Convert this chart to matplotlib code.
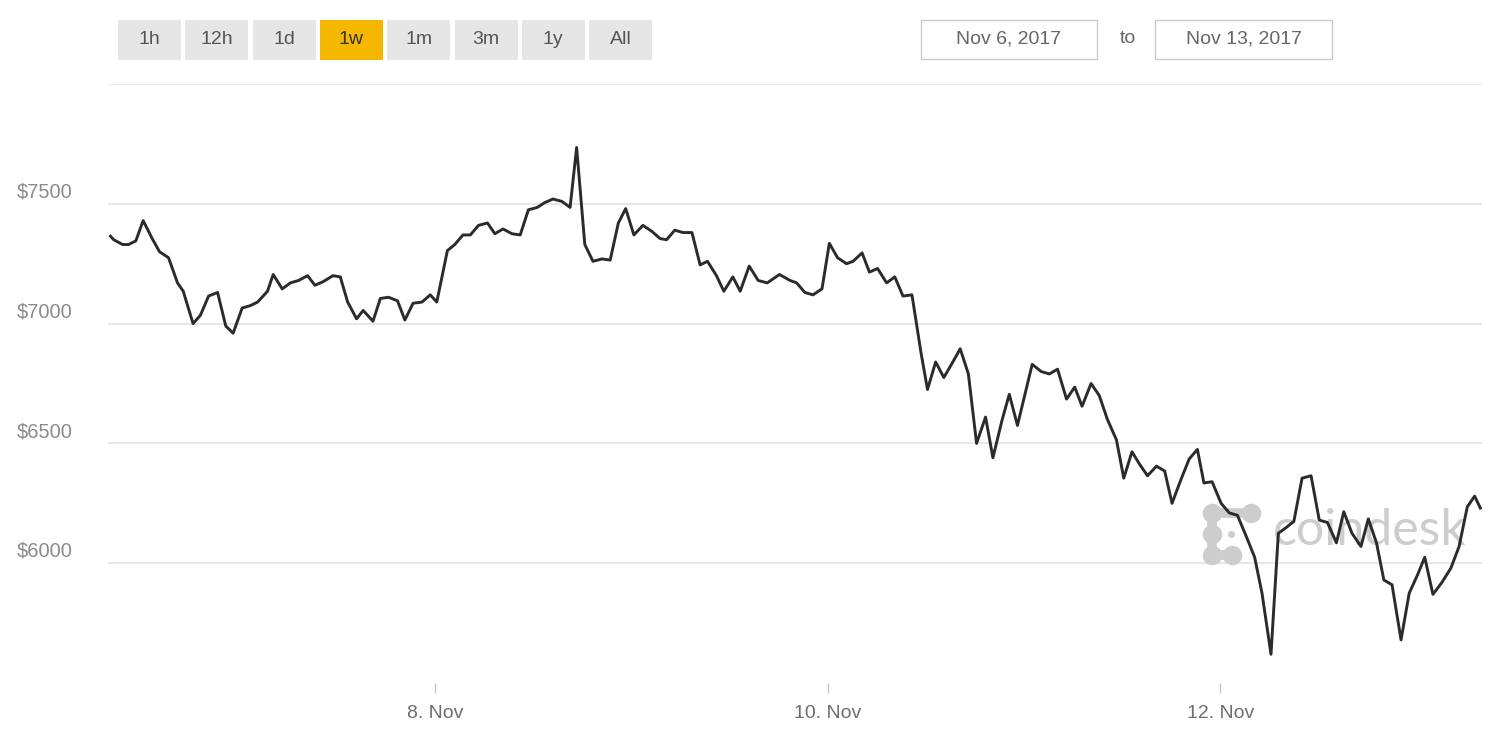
import pandas as pd
import matplotlib
matplotlib.use('Agg')
import matplotlib.pyplot as plt
from matplotlib.patches import Rectangle

plt.rcParams['font.family'] = ['Liberation Sans', 'DejaVu Sans']

# hours since 2017-11-06 00:00 and BTC price (USD)
hours = [8.3, 8.7, 9.8, 10.5, 11.4, 12.3, 13.4, 14.3, 15.4, 16.5,
         17.2, 18.4, 19.3, 20.3, 21.4, 22.4, 23.3, 24.4, 25.4, 26.3,
         27.5, 28.2, 29.3, 30.3, 31.3, 32.4, 33.3, 34.3, 35.5, 36.4,
         37.3, 38.4, 39.2, 40.4, 41.3, 42.3, 43.4, 44.3, 45.3, 46.4,
         47.4, 48.2, 49.5, 50.4, 51.4, 52.3, 53.3, 54.4, 55.3, 56.3,
         57.4, 58.4, 59.4, 60.5, 61.4, 62.4, 63.5, 64.5, 65.3, 66.3,
         67.3, 68.4, 69.4, 70.4, 71.3, 72.3, 73.4, 74.5, 75.5, 76.3,
         77.3, 78.3, 79.4, 80.4, 81.3, 82.4, 83.3, 84.4, 85.3, 86.4,
         87.5, 88.6, 90.1, 91.4, 92.2, 93.2, 94.2, 95.3, 96.2, 97.2,
         98.3, 99.1, 100.2, 101.1, 102.1, 103.2, 104.2, 105.2, 106.3, 107.4,
         108.2, 109.2, 110.2, 111.3, 112.2, 113.2, 114.2, 115.3, 116.2, 117.3,
         118.2, 119.2, 121.0, 122.1, 123.1, 124.1, 125.2, 126.2, 127.1, 128.2,
         129.2, 130.2, 131.3, 132.2, 133.2, 134.1, 135.1, 136.2, 137.2, 138.1,
         139.2, 140.2, 141.2, 142.0, 143.0, 144.1, 145.1, 146.1, 147.2, 148.2,
         149.1, 150.2, 151.1, 152.1, 153.0, 154.0, 155.1, 156.1, 157.1, 158.2,
         159.1, 160.1, 161.2, 162.1, 163.1, 164.0, 165.0, 166.1, 167.1, 168.1,
         169.0, 170.0, 171.1, 172.2, 173.2, 174.2, 175.1, 175.8]

prices = [7365, 7350, 7330, 7330, 7345, 7430, 7355, 7300, 7275, 7170,
          7135, 7000, 7035, 7115, 7130, 6990, 6960, 7065, 7075, 7090,
          7135, 7205, 7145, 7170, 7180, 7200, 7160, 7175, 7200, 7195,
          7090, 7020, 7055, 7010, 7105, 7110, 7095, 7015, 7085, 7090,
          7120, 7090, 7305, 7330, 7370, 7370, 7410, 7420, 7375, 7395,
          7375, 7370, 7475, 7485, 7505, 7520, 7510, 7485, 7735, 7330,
          7260, 7270, 7265, 7420, 7480, 7370, 7410, 7385, 7355, 7350,
          7390, 7380, 7380, 7245, 7260, 7200, 7135, 7195, 7135, 7240,
          7180, 7170, 7205, 7180, 7170, 7130, 7120, 7145, 7335, 7275,
          7250, 7260, 7295, 7215, 7230, 7170, 7195, 7115, 7120, 6880,
          6725, 6840, 6775, 6840, 6895, 6790, 6500, 6610, 6440, 6595,
          6705, 6575, 6830, 6800, 6790, 6810, 6685, 6735, 6655, 6750,
          6700, 6600, 6515, 6355, 6465, 6415, 6365, 6405, 6385, 6250,
          6350, 6435, 6475, 6335, 6340, 6250, 6210, 6200, 6110, 6025,
          5875, 5620, 6125, 6150, 6175, 6355, 6365, 6180, 6170, 6085,
          6215, 6125, 6070, 6185, 6085, 5930, 5910, 5680, 5875, 5950,
          6025, 5870, 5920, 5980, 6070, 6235, 6280, 6230]

y_ticks = [6000, 6500, 7000, 7500]
y_labels = ['$6000', '$6500', '$7000', '$7500']
x_ticks = ['2017-11-08', '2017-11-10', '2017-11-12']
x_labels = ['8. Nov', '10. Nov', '12. Nov']
buttons = ['1h', '12h', '1d', '1w', '1m', '3m', '1y', 'All']
selected = '1w'
date_from = 'Nov 6, 2017'
date_to = 'Nov 13, 2017'

times = pd.Timestamp('2017-11-06') + pd.to_timedelta(hours, unit='h')

fig = plt.figure(figsize=(15, 7.5), dpi=100)
ax = fig.add_axes([0.072, 0.0893, 0.916, 0.7987])

ax.plot(times, prices, color='#2b2b2b', lw=2.1, zorder=3)

ax.set_xlim(pd.Timestamp('2017-11-06 08:00'), pd.Timestamp('2017-11-13 08:00'))
ax.set_ylim(5500, 8000)

for v in [6000, 6500, 7000, 7500, 8000]:
    ax.axhline(v, color='#e3e3e3', lw=1.2, zorder=1)

for s in ax.spines.values():
    s.set_visible(False)

ax.set_yticks([])
for v, lab in zip(y_ticks, y_labels):
    ax.annotate(lab, xy=(0, v), xycoords=('axes fraction', 'data'),
                xytext=(-65.5, 8.5), textcoords='offset points',
                ha='left', va='center', fontsize=14.5, color='#8c8c8c')

ax.set_xticks(pd.to_datetime(x_ticks))
ax.set_xticklabels(x_labels)
ax.tick_params(axis='x', length=7, width=1, color='#c8c8c8',
               labelsize=14, labelcolor='#6e6e6e', pad=9)

# coindesk watermark
wm = '#cdcdcd'
ax.text(0.848, 0.253, 'coindesk', transform=ax.transAxes, fontsize=36,
        color=wm, ha='left', va='center', zorder=2, family='Lato')
ax.plot([0.832, 0.8035, 0.8035, 0.818], [0.2837, 0.2837, 0.2137, 0.2137],
        transform=ax.transAxes, color=wm, lw=7,
        solid_capstyle='round', solid_joinstyle='round', zorder=2)
ax.plot([0.832, 0.8035, 0.8035, 0.8035, 0.818],
        [0.2837, 0.2837, 0.2487, 0.2137, 0.2137], 'o',
        transform=ax.transAxes, color=wm, ms=13, zorder=2)
ax.plot([0.8175], [0.2487], 'o', transform=ax.transAxes, color=wm,
        ms=4, zorder=2)

# range selector buttons
for i, b in enumerate(buttons):
    x0 = (118 + i * 67.3) / 1500
    face = '#f6b700' if b == selected else '#e6e6e6'
    fig.patches.append(Rectangle((x0, 0.92), 63 / 1500, 0.0533,
                                 transform=fig.transFigure, facecolor=face,
                                 edgecolor='none'))
    fig.text(x0 + 31.5 / 1500, 0.947, b, ha='center', va='center',
             fontsize=14, color='#333333' if b == selected else '#555555')

# date range boxes
for x0, w, txt in [(921, 176, date_from), (1155, 177, date_to)]:
    fig.patches.append(Rectangle((x0 / 1500, 0.9213), w / 1500, 0.052,
                                 transform=fig.transFigure, facecolor='white',
                                 edgecolor='#cccccc', lw=1))
    fig.text((x0 + w / 2) / 1500, 0.948, txt, ha='center', va='center',
             fontsize=14, color='#666666')
fig.text(1128 / 1500, 0.949, 'to', ha='center', va='center', fontsize=14,
         color='#666666')

fig.savefig('out.png', dpi=100, facecolor='white')
